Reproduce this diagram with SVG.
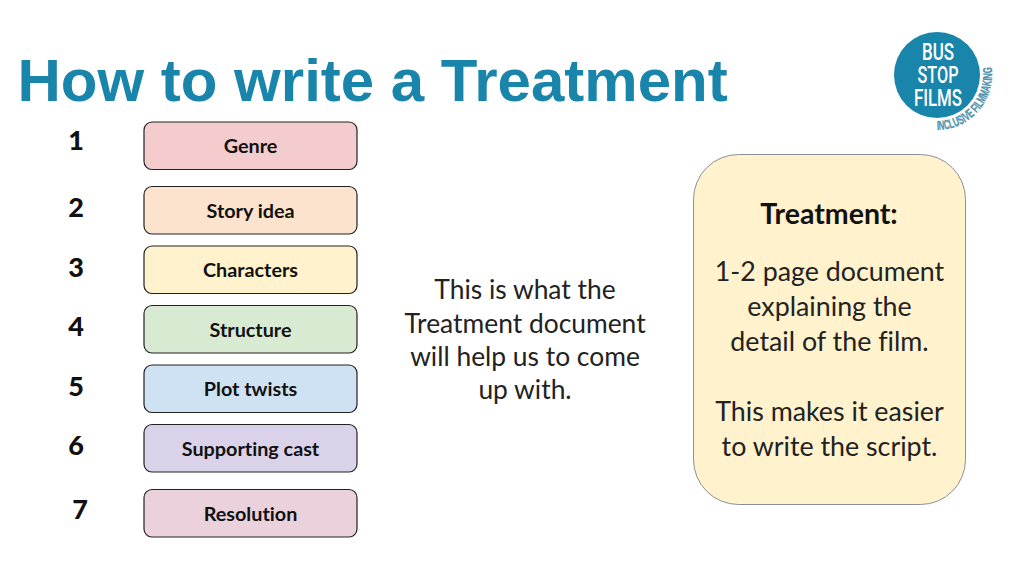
<svg xmlns="http://www.w3.org/2000/svg" width="1024" height="576" viewBox="0 0 1024 576">
<style>
text{font-variant-ligatures:none !important}
.title{font:bold 60px "Liberation Sans",Arial,sans-serif;fill:#1a85aa}
.num{font:900 27px Lato,"Open Sans",sans-serif;fill:#111;text-anchor:middle}
.box{stroke:#222;stroke-width:1.2}
.lbl{font:bold 19.800px Lato,"Open Sans",sans-serif;fill:#111;text-anchor:middle}
.body{font:26.400px Lato,"Open Sans",sans-serif;fill:#222;text-anchor:middle}
.head{font:bold 28.500px Lato,"Open Sans",sans-serif;fill:#111;text-anchor:middle}
.logo{font:500 24.500px Roboto,"Liberation Sans",sans-serif;fill:#fff;text-anchor:middle}
.tag{font:bold 13px "Liberation Sans",sans-serif;fill:#4f93ad;stroke:#4f93ad;stroke-width:.3}
</style>
<defs><path id="arc" d="M937 130 A55 55 0 0 0 992 75 L992 60"/></defs>
<rect width="1024" height="576" fill="#fff"/>
<text class="title" x="17.500" y="100.500">How to write a Treatment</text>
<g id="logo">
<circle cx="937" cy="75" r="43" fill="#1a85aa"/>
<text class="logo" x="938" y="60" textLength="32" lengthAdjust="spacingAndGlyphs">BUS</text>
<text class="logo" x="938" y="83" textLength="41" lengthAdjust="spacingAndGlyphs">STOP</text>
<text class="logo" x="938" y="106" textLength="48" lengthAdjust="spacingAndGlyphs">FILMS</text>
<text class="tag"><textPath href="#arc" textLength="94" lengthAdjust="spacingAndGlyphs">INCLUSIVE FILMMAKING</textPath></text>
</g>
<g id="n1"><text class="num" x="76" y="150">1</text><rect class="box" x="144" y="122" width="213" height="47.500" rx="8" fill="#f4cccd"/><text class="lbl" x="250.500" y="152.500">Genre</text></g>
<g id="n2"><text class="num" x="76" y="217">2</text><rect class="box" x="144" y="186.500" width="213" height="47.500" rx="8" fill="#fbe3cd"/><text class="lbl" x="250.500" y="217.500">Story idea</text></g>
<g id="n3"><text class="num" x="76" y="277">3</text><rect class="box" x="144" y="246" width="213" height="47.500" rx="8" fill="#fff2cc"/><text class="lbl" x="250.500" y="276.500">Characters</text></g>
<g id="n4"><text class="num" x="76" y="336">4</text><rect class="box" x="144" y="305.500" width="213" height="47.500" rx="8" fill="#d9ead3"/><text class="lbl" x="250.500" y="336.500">Structure</text></g>
<g id="n5"><text class="num" x="76" y="396">5</text><rect class="box" x="144" y="365" width="213" height="47.500" rx="8" fill="#cfe2f3"/><text class="lbl" x="250.500" y="396">Plot twists</text></g>
<g id="n6"><text class="num" x="76" y="455">6</text><rect class="box" x="144" y="424.500" width="213" height="47.500" rx="8" fill="#d9d2e9"/><text class="lbl" x="250.500" y="456">Supporting cast</text></g>
<g id="n7"><text class="num" x="80" y="519">7</text><rect class="box" x="144" y="489.500" width="213" height="47.500" rx="8" fill="#ead1dc"/><text class="lbl" x="250.500" y="520.500">Resolution</text></g>
<g id="middle">
<text class="body" x="525" y="298.500">This is what the</text>
<text class="body" x="525" y="332.500">Treatment document</text>
<text class="body" x="525" y="365.500">will help us to come</text>
<text class="body" x="525" y="398.500">up with.</text>
</g>
<g id="treatment">
<rect x="693.500" y="154.500" width="272" height="350" rx="45" fill="#fff2cc" stroke="#8a8f96" stroke-width="1"/>
<text class="head" x="829" y="223.500">Treatment:</text>
<text class="body" x="829.500" y="281" style="font-size:26.800px">1-2 page document</text>
<text class="body" x="829.500" y="316" style="font-size:26.800px">explaining the</text>
<text class="body" x="829.500" y="350.500" style="font-size:26.800px">detail of the film.</text>
<text class="body" x="829.500" y="420.500" style="font-size:26.800px">This makes it easier</text>
<text class="body" x="829.500" y="455.500" style="font-size:26.800px">to write the script.</text>
</g>
<g id="connectors"/>
</svg>
